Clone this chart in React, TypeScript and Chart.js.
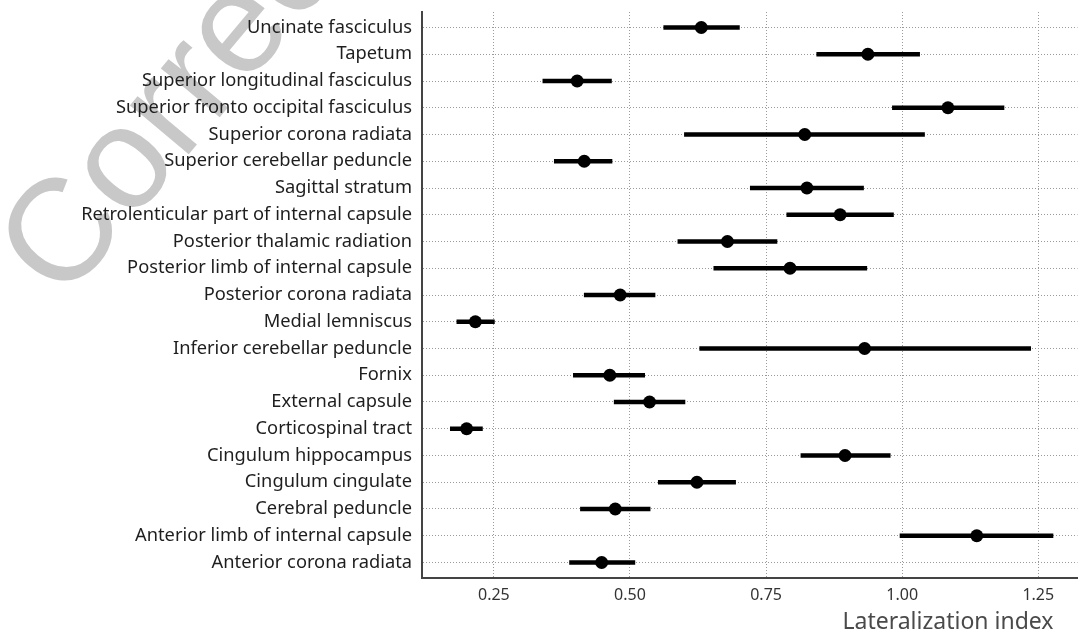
import React, { useEffect, useRef } from "react";
import { Chart, registerables } from "chart.js";

Chart.register(...registerables);

// White-matter tracts, listed top to bottom
const TRACTS = [
  "Uncinate fasciculus",
  "Tapetum",
  "Superior longitudinal fasciculus",
  "Superior fronto occipital fasciculus",
  "Superior corona radiata",
  "Superior cerebellar peduncle",
  "Sagittal stratum",
  "Retrolenticular part of internal capsule",
  "Posterior thalamic radiation",
  "Posterior limb of internal capsule",
  "Posterior corona radiata",
  "Medial lemniscus",
  "Inferior cerebellar peduncle",
  "Fornix",
  "External capsule",
  "Corticospinal tract",
  "Cingulum hippocampus",
  "Cingulum cingulate",
  "Cerebral peduncle",
  "Anterior limb of internal capsule",
  "Anterior corona radiata",
];

// Point estimate of the lateralization index per tract
const ESTIMATE = [
  0.631, 0.937, 0.403, 1.084, 0.821, 0.416, 0.825, 0.886, 0.679, 0.794, 0.482,
  0.216, 0.931, 0.463, 0.536, 0.2, 0.895, 0.623, 0.473, 1.137, 0.448,
];

// Lower and upper interval bounds
const LOWER = [
  0.562, 0.843, 0.34, 0.982, 0.6, 0.361, 0.721, 0.788, 0.588, 0.654, 0.416,
  0.182, 0.628, 0.396, 0.471, 0.17, 0.814, 0.552, 0.409, 0.996, 0.389,
];
const UPPER = [
  0.701, 1.032, 0.466, 1.187, 1.041, 0.467, 0.929, 0.984, 0.77, 0.935, 0.546,
  0.251, 1.236, 0.527, 0.601, 0.229, 0.978, 0.694, 0.537, 1.277, 0.509,
];

const X_TICKS = [0.25, 0.5, 0.75, 1.0, 1.25];
const X_TITLE = "Lateralization index";
const STAMP = "Correction";

const W = 1084;
const H = 631;
const FONT = "'Noto Sans', 'Open Sans', sans-serif";

// Large grey stamp painted underneath the whole chart
const stampPlugin = {
  id: "stamp",
  beforeDraw(chart: any) {
    const ctx = chart.ctx;
    ctx.save();
    ctx.translate(63, 304);
    ctx.rotate((-50 * Math.PI) / 180);
    ctx.font = "145px 'Liberation Sans', Arial, sans-serif";
    ctx.fillStyle = "#c8c8c8";
    ctx.textBaseline = "alphabetic";
    ctx.fillText(STAMP, 0, 0);
    ctx.restore();
  },
};

// Axis title placed at the lower right, under the x tick labels
const xTitlePlugin = {
  id: "xTitle",
  afterDraw(chart: any) {
    const ctx = chart.ctx;
    ctx.save();
    ctx.font = `23px ${FONT}`;
    ctx.fillStyle = "#4a4a4a";
    ctx.textAlign = "right";
    ctx.textBaseline = "alphabetic";
    ctx.fillText(X_TITLE, chart.chartArea.right - 24, H - 2);
    ctx.restore();
  },
};

export default function App() {
  const canvasRef = useRef<HTMLCanvasElement | null>(null);

  useEffect(() => {
    const canvas = canvasRef.current;
    if (!canvas) return;

    const ranges = TRACTS.map((_, i) => ({ x: [LOWER[i], UPPER[i]], y: i }));
    const points = TRACTS.map((_, i) => ({ x: ESTIMATE[i], y: i }));

    const chart = new Chart(canvas, {
      type: "bar",
      data: {
        datasets: [
          {
            type: "scatter",
            data: points,
            order: 0,
            pointRadius: 6.5,
            pointHoverRadius: 6.5,
            pointBackgroundColor: "#000000",
            pointBorderWidth: 0,
            showLine: false,
          } as any,
          {
            type: "bar",
            data: ranges as any,
            order: 1,
            backgroundColor: "#000000",
            borderWidth: 0,
            barThickness: 4,
            borderSkipped: false,
          } as any,
        ],
      },
      options: {
        indexAxis: "y",
        responsive: false,
        animation: false,
        events: [],
        layout: { padding: { top: 12, right: 4, left: 0, bottom: 0 } },
        plugins: {
          legend: { display: false },
          tooltip: { enabled: false },
        },
        scales: {
          x: {
            type: "linear",
            min: 0.118,
            max: 1.322,
            offset: false,
            afterBuildTicks: (scale: any) => {
              scale.ticks = X_TICKS.map((v) => ({ value: v }));
            },
            afterFit: (scale: any) => {
              scale.height = H - 578;
              scale.paddingLeft = 0;
              scale.paddingRight = 0;
            },
            ticks: {
              callback: (v: any) => Number(v).toFixed(2),
              color: "#333333",
              font: { family: FONT, size: 16 },
              padding: 8,
            },
            grid: {
              color: "#9a9a9a",
              lineWidth: 1,
              drawTicks: false,
              offset: false,
            },
            border: { display: true, color: "#444444", width: 2, dash: [1, 2] },
          },
          y: {
            type: "linear",
            reverse: true,
            min: -0.58,
            max: 20.58,
            offset: false,
            afterBuildTicks: (scale: any) => {
              scale.ticks = TRACTS.map((_, i) => ({ value: i }));
            },
            afterFit: (scale: any) => {
              scale.width = 422;
              scale.paddingTop = 0;
              scale.paddingBottom = 0;
            },
            ticks: {
              autoSkip: false,
              callback: (v: any) => TRACTS[Math.round(Number(v))] ?? "",
              color: "#1e1e1e",
              font: { family: FONT, size: 18.3 },
              padding: 10,
            },
            grid: {
              color: "#9a9a9a",
              lineWidth: 1,
              drawTicks: false,
              offset: false,
            },
            border: { display: true, color: "#444444", width: 2, dash: [1, 2] },
          },
        },
      },
      plugins: [stampPlugin, xTitlePlugin],
    });

    return () => chart.destroy();
  }, []);

  return (
    <div style={{ position: "fixed", left: 0, top: 0, width: W, height: H, background: "#ffffff" }}>
      <canvas ref={canvasRef} width={W} height={H} style={{ display: "block", width: W, height: H }} />
    </div>
  );
}
